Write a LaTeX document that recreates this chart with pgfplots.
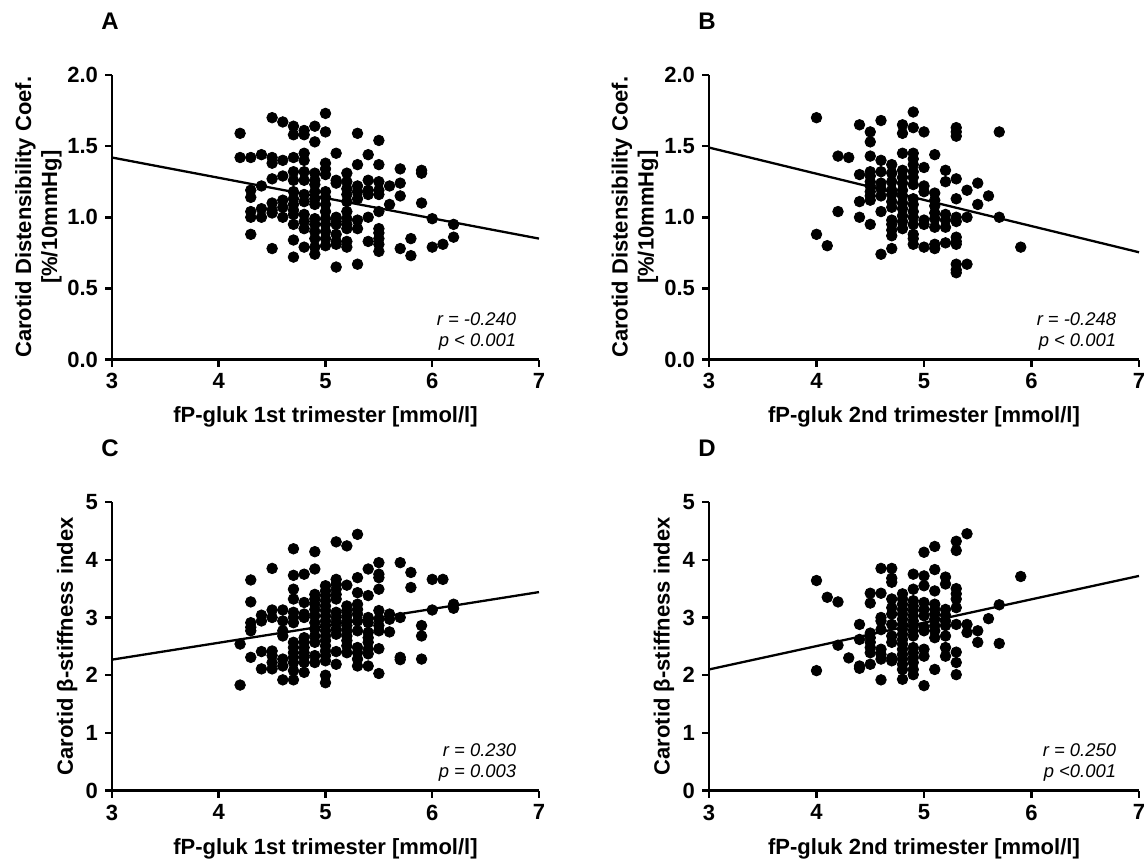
\documentclass[border=0pt]{standalone}
\usepackage{pgfplots}
\pgfplotsset{compat=1.18}
\usepackage{fontspec}
\setmainfont{Liberation Sans}
\begin{document}
\begin{tikzpicture}
\useasboundingbox (0pt,0pt) rectangle (572.5pt,-431.5pt);
\pgfplotsset{
  prism/.style={
    scale only axis,
    axis x line*=bottom,
    axis y line*=left,
    axis line style={line width=1.35pt},
    every tick/.style={line width=1.25pt,black},
    major tick length=3.5pt,
    tick align=outside,
    xmin=3,xmax=7,xtick={3,4,5,6,7},
    /pgf/number format/assume math mode=true,
    ticklabel style={font=\fontsize{11}{12}\selectfont\bfseries},
    label style={font=\fontsize{11}{13}\selectfont\bfseries},
    xlabel style={yshift=-2pt},
    clip=false,
  },
  dcoef/.style={ymin=0,ymax=2,ytick={0,0.5,1,1.5,2},
    yticklabel style={/pgf/number format/.cd,fixed,fixed zerofill,precision=1},
    ylabel={Carotid Distensibility Coef.\\{[\%/10mmHg]}},
    ylabel style={align=center,at={(axis description cs:-0.172,0.5)},anchor=center}},
  beta/.style={ymin=0,ymax=5,ytick={0,1,2,3,4,5},
    ylabel={Carotid β-stiffness index},
    ylabel style={at={(axis description cs:-0.105,0.5)},anchor=center}},
  dots/.style={only marks,mark=*,mark size=2.65pt,black},
  fit/.style={no marks,line width=1.15pt,black},
}
\newcommand{\panel}[1]{\node[font=\fontsize{12}{14}\selectfont\bfseries] at (axis description cs:0,1) [yshift=27pt,xshift=-1pt] {#1};}
\newcommand{\stats}[2]{%
  \node[anchor=base east,font=\fontsize{9.2}{11}\selectfont\itshape] at (axis description cs:0.963,0.12) {#1};
  \node[anchor=base east,font=\fontsize{9.2}{11}\selectfont\itshape] at (axis description cs:0.963,0.045) {#2};}

% ---------------- A ----------------
\begin{axis}[prism,dcoef,at={(56pt,-179.75pt)},anchor=south west,width=213.5pt,height=142.25pt,
  xlabel={fP-gluk 1st trimester [mmol/l]}]
\addplot[dots] coordinates {
(4.2,1.59)(4.2,1.42)
(4.3,1.42)(4.3,1.19)(4.3,1.14)(4.3,1.04)(4.3,1.00)(4.3,0.88)
(4.4,1.44)(4.4,1.22)(4.4,1.06)(4.4,1.00)
(4.5,1.70)(4.5,1.42)(4.5,1.38)(4.5,1.27)(4.5,1.10)(4.5,1.05)(4.5,1.03)(4.5,0.78)
(4.6,1.67)(4.6,1.40)(4.6,1.29)(4.6,1.12)(4.6,1.07)(4.6,1.00)
(4.7,1.64)(4.7,1.58)(4.7,1.42)(4.7,1.32)(4.7,1.26)(4.7,1.18)(4.7,1.13)(4.7,1.09)(4.7,1.05)(4.7,1.02)(4.7,0.95)(4.7,0.84)(4.7,0.72)
(4.8,1.61)(4.8,1.58)(4.8,1.45)(4.8,1.40)(4.8,1.32)(4.8,1.26)(4.8,1.16)(4.8,1.11)(4.8,1.02)(4.8,0.97)(4.8,0.92)(4.8,0.79)
(4.9,1.64)(4.9,1.53)(4.9,1.31)(4.9,1.26)(4.9,1.23)(4.9,1.18)(4.9,1.13)(4.9,1.09)(4.9,0.99)(4.9,0.95)(4.9,0.90)(4.9,0.85)(4.9,0.79)(4.9,0.74)
(5.0,1.73)(5.0,1.60)(5.0,1.38)(5.0,1.34)(5.0,1.30)(5.0,1.18)(5.0,1.14)(5.0,1.09)(5.0,1.04)(5.0,0.99)(5.0,0.95)(5.0,0.90)(5.0,0.85)(5.0,0.80)
(5.1,1.45)(5.1,1.26)(5.1,1.24)(5.1,1.00)(5.1,0.97)(5.1,0.95)(5.1,0.88)(5.1,0.83)(5.1,0.81)(5.1,0.65)
(5.2,1.31)(5.2,1.25)(5.2,1.20)(5.2,1.16)(5.2,1.11)(5.2,1.04)(5.2,0.99)(5.2,0.95)(5.2,0.92)(5.2,0.83)(5.2,0.79)
(5.3,1.59)(5.3,1.37)(5.3,1.22)(5.3,1.18)(5.3,1.13)(5.3,0.98)(5.3,0.92)(5.3,0.67)
(5.4,1.44)(5.4,1.26)(5.4,1.19)(5.4,1.16)(5.4,1.00)(5.4,0.83)
(5.5,1.54)(5.5,1.37)(5.5,1.25)(5.5,1.19)(5.5,1.16)(5.5,1.04)(5.5,0.92)(5.5,0.89)(5.5,0.85)(5.5,0.81)(5.5,0.76)
(5.6,1.22)(5.6,1.09)
(5.7,1.34)(5.7,1.24)(5.7,1.15)(5.7,0.78)
(5.8,0.85)(5.8,0.73)
(5.9,1.33)(5.9,1.31)(5.9,1.10)
(6.0,0.99)(6.0,0.79)
(6.1,0.81)
(6.2,0.95)(6.2,0.86)
};
\addplot[fit] coordinates {(3,1.42)(7,0.85)};
\panel{A}
\stats{r = -0.240}{p < 0.001}
\end{axis}

% ---------------- B ----------------
\begin{axis}[prism,dcoef,at={(354.5pt,-179.75pt)},anchor=south west,width=215pt,height=142.25pt,
  xlabel={fP-gluk 2nd trimester [mmol/l]}]
\addplot[dots] coordinates {
(4.0,1.70)(4.0,0.88)
(4.1,0.80)
(4.2,1.43)(4.2,1.04)
(4.3,1.42)
(4.4,1.65)(4.4,1.30)(4.4,1.11)(4.4,1.00)
(4.5,1.60)(4.5,1.53)(4.5,1.43)(4.5,1.32)(4.5,1.29)(4.5,1.25)(4.5,1.22)(4.5,1.18)(4.5,1.15)(4.5,1.12)(4.5,0.95)
(4.6,1.68)(4.6,1.40)(4.6,1.32)(4.6,1.24)(4.6,1.20)(4.6,1.15)(4.6,1.04)(4.6,0.74)
(4.7,1.37)(4.7,1.31)(4.7,1.25)(4.7,1.19)(4.7,1.16)(4.7,1.11)(4.7,1.07)(4.7,0.98)(4.7,0.95)(4.7,0.91)(4.7,0.87)(4.7,0.78)
(4.8,1.65)(4.8,1.59)(4.8,1.45)(4.8,1.33)(4.8,1.28)(4.8,1.24)(4.8,1.19)(4.8,1.15)(4.8,1.10)(4.8,1.06)(4.8,1.01)(4.8,0.97)(4.8,0.92)
(4.9,1.74)(4.9,1.63)(4.9,1.45)(4.9,1.41)(4.9,1.37)(4.9,1.32)(4.9,1.28)(4.9,1.23)(4.9,1.13)(4.9,1.09)(4.9,1.04)(4.9,1.00)(4.9,0.95)(4.9,0.88)(4.9,0.85)(4.9,0.81)
(5.0,1.60)(5.0,1.35)(5.0,1.22)(5.0,1.18)(5.0,0.98)(5.0,0.95)(5.0,0.79)
(5.1,1.44)(5.1,1.17)(5.1,1.12)(5.1,1.08)(5.1,1.03)(5.1,0.99)(5.1,0.93)(5.1,0.81)(5.1,0.78)
(5.2,1.33)(5.2,1.25)(5.2,1.02)(5.2,0.98)(5.2,0.93)(5.2,0.82)
(5.3,1.63)(5.3,1.60)(5.3,1.57)(5.3,1.27)(5.3,1.13)(5.3,1.00)(5.3,0.97)(5.3,0.86)(5.3,0.83)(5.3,0.81)(5.3,0.67)(5.3,0.63)(5.3,0.61)
(5.4,1.19)(5.4,1.00)(5.4,0.67)
(5.5,1.24)(5.5,1.09)
(5.6,1.15)
(5.7,1.60)(5.7,1.00)
(5.9,0.79)
};
\addplot[fit] coordinates {(3,1.49)(7,0.754)};
\panel{B}
\stats{r = -0.248}{p < 0.001}
\end{axis}

% ---------------- C ----------------
\begin{axis}[prism,beta,at={(56pt,-395.35pt)},anchor=south west,width=213.5pt,height=144.35pt,
  xlabel={fP-gluk 1st trimester [mmol/l]}]
\addplot[dots] coordinates {
(4.2,2.54)(4.2,1.83)
(4.3,3.65)(4.3,3.27)(4.3,2.91)(4.3,2.83)(4.3,2.77)(4.3,2.31)
(4.4,3.04)(4.4,2.94)(4.4,2.41)(4.4,2.11)
(4.5,3.85)(4.5,3.13)(4.5,3.00)(4.5,2.42)(4.5,2.34)(4.5,2.22)(4.5,2.11)
(4.6,3.13)(4.6,2.94)(4.6,2.77)(4.6,2.68)(4.6,2.28)(4.6,2.16)(4.6,1.92)
(4.7,4.19)(4.7,3.73)(4.7,3.49)(4.7,3.32)(4.7,3.09)(4.7,3.00)(4.7,2.91)(4.7,2.57)(4.7,2.48)(4.7,2.39)(4.7,2.31)(4.7,2.22)(4.7,2.08)(4.7,1.92)
(4.8,3.75)(4.8,3.26)(4.8,3.06)(4.8,3.00)(4.8,2.65)(4.8,2.57)(4.8,2.48)(4.8,2.39)(4.8,2.31)(4.8,2.22)(4.8,2.05)
(4.9,4.14)(4.9,3.84)(4.9,3.40)(4.9,3.32)(4.9,3.23)(4.9,3.14)(4.9,3.03)(4.9,2.91)(4.9,2.80)(4.9,2.68)(4.9,2.57)(4.9,2.34)(4.9,2.22)
(5.0,3.55)(5.0,3.46)(5.0,3.38)(5.0,3.29)(5.0,3.20)(5.0,3.12)(5.0,3.03)(5.0,2.94)(5.0,2.86)(5.0,2.77)(5.0,2.68)(5.0,2.60)(5.0,2.51)(5.0,2.42)(5.0,2.34)(5.0,2.25)(5.0,2.00)(5.0,1.87)
(5.1,4.31)(5.1,3.66)(5.1,3.58)(5.1,3.49)(5.1,3.40)(5.1,3.32)(5.1,3.09)(5.1,3.00)(5.1,2.91)(5.1,2.80)(5.1,2.71)(5.1,2.41)(5.1,2.19)
(5.2,4.24)(5.2,3.56)(5.2,3.20)(5.2,3.12)(5.2,3.03)(5.2,2.94)(5.2,2.86)(5.2,2.77)(5.2,2.68)(5.2,2.60)(5.2,2.51)(5.2,2.39)
(5.3,4.44)(5.3,3.69)(5.3,3.43)(5.3,3.23)(5.3,3.14)(5.3,3.06)(5.3,2.94)(5.3,2.77)(5.3,2.48)(5.3,2.39)(5.3,2.28)(5.3,2.16)
(5.4,3.84)(5.4,3.38)(5.4,3.00)(5.4,2.91)(5.4,2.74)(5.4,2.65)(5.4,2.57)(5.4,2.45)(5.4,2.37)(5.4,2.16)
(5.5,3.95)(5.5,3.75)(5.5,3.69)(5.5,3.49)(5.5,3.12)(5.5,2.97)(5.5,2.86)(5.5,2.77)(5.5,2.46)(5.5,2.03)
(5.6,3.06)(5.6,2.97)(5.6,2.75)
(5.7,3.95)(5.7,3.00)(5.7,2.31)(5.7,2.27)
(5.8,3.78)(5.8,3.52)
(5.9,2.86)(5.9,2.68)(5.9,2.28)
(6.0,3.66)(6.0,3.13)
(6.1,3.66)
(6.2,3.23)(6.2,3.16)
};
\addplot[fit] coordinates {(3,2.27)(7,3.44)};
\panel{C}
\stats{r = 0.230}{p = 0.003}
\end{axis}

% ---------------- D ----------------
\begin{axis}[prism,beta,at={(354.5pt,-395.35pt)},anchor=south west,width=215pt,height=144.35pt,
  xlabel={fP-gluk 2nd trimester [mmol/l]}]
\addplot[dots] coordinates {
(4.0,3.64)(4.0,2.08)
(4.1,3.35)
(4.2,3.27)(4.2,2.52)
(4.3,2.30)
(4.4,2.88)(4.4,2.62)(4.4,2.16)(4.4,2.12)
(4.5,3.42)(4.5,3.25)(4.5,2.73)(4.5,2.65)(4.5,2.57)(4.5,2.48)(4.5,2.39)(4.5,2.19)
(4.6,3.85)(4.6,3.42)(4.6,3.00)(4.6,2.94)(4.6,2.79)(4.6,2.45)(4.6,2.36)(4.6,2.28)(4.6,1.92)
(4.7,3.85)(4.7,3.68)(4.7,3.61)(4.7,3.32)(4.7,3.17)(4.7,3.06)(4.7,2.88)(4.7,2.68)(4.7,2.57)(4.7,2.30)(4.7,2.25)
(4.8,3.41)(4.8,3.32)(4.8,3.23)(4.8,3.14)(4.8,3.06)(4.8,2.97)(4.8,2.88)(4.8,2.80)(4.8,2.71)(4.8,2.62)(4.8,2.54)(4.8,2.45)(4.8,2.36)(4.8,2.28)(4.8,2.19)(4.8,2.10)(4.8,1.93)
(4.9,3.75)(4.9,3.49)(4.9,3.29)(4.9,3.20)(4.9,3.12)(4.9,3.03)(4.9,2.94)(4.9,2.86)(4.9,2.77)(4.9,2.68)(4.9,2.48)(4.9,2.39)(4.9,2.30)(4.9,2.22)(4.9,2.10)(4.9,2.01)
(5.0,4.13)(5.0,3.72)(5.0,3.55)(5.0,3.26)(5.0,3.14)(5.0,3.03)(5.0,2.83)(5.0,2.77)(5.0,2.45)(5.0,2.33)(5.0,1.82)
(5.1,4.23)(5.1,3.83)(5.1,3.46)(5.1,3.23)(5.1,3.14)(5.1,3.06)(5.1,2.97)(5.1,2.86)(5.1,2.77)(5.1,2.65)(5.1,2.10)
(5.2,3.70)(5.2,3.58)(5.2,3.14)(5.2,3.04)(5.2,2.94)(5.2,2.86)(5.2,2.68)(5.2,2.48)(5.2,2.33)
(5.3,4.32)(5.3,4.16)(5.3,3.50)(5.3,3.41)(5.3,3.32)(5.3,3.17)(5.3,2.88)(5.3,2.40)(5.3,2.22)(5.3,2.01)
(5.4,4.45)(5.4,2.88)(5.4,2.74)
(5.5,2.77)(5.5,2.57)
(5.6,2.98)
(5.7,3.22)(5.7,2.55)
(5.9,3.71)
};
\addplot[fit] coordinates {(3,2.10)(7,3.72)};
\panel{D}
\stats{r = 0.250}{p <0.001}
\end{axis}
\end{tikzpicture}
\end{document}
